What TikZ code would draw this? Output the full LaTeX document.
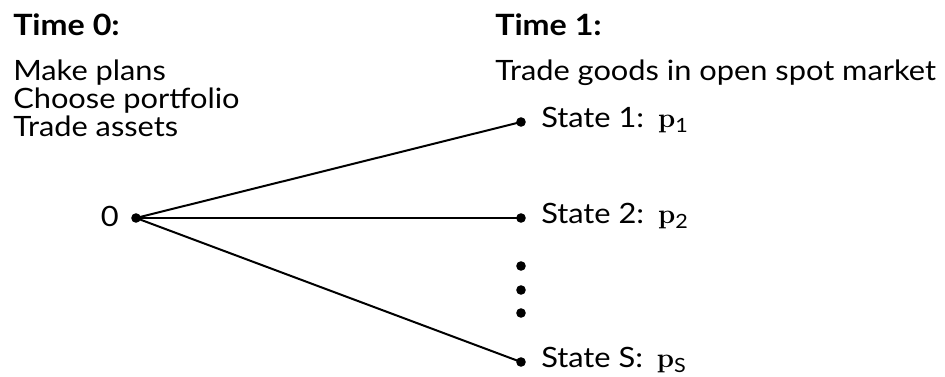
\documentclass[tikz,border=0pt]{standalone}
\usepackage[no-math]{fontspec}
\setmainfont{Lato}[FakeStretch=1.1]
\begin{document}
\begin{tikzpicture}[x=0.75pt,y=-0.75pt,
  txt/.style={anchor=base west, inner sep=0pt, font=\fontsize{21}{25}\selectfont},
  hd/.style={anchor=base west, inner sep=0pt, font=\bfseries\fontsize{22}{26}\selectfont},
  dotnode/.style={circle, fill=black, inner sep=0pt, minimum size=7.2pt},
  edge/.style={line width=1.5pt}]
\useasboundingbox (0,0) rectangle (945,377);
\node[hd] (t0) at (13,36) {Time 0:};
\node[txt] (a1) at (13,81) {Make plans};
\node[txt] (a2) at (13,109) {Choose portfolio};
\node[txt] (a3) at (13,137) {Trade assets};
\node[hd] (t1) at (495,36) {Time 1:};
\node[txt] (b1) at (495,81) {Trade goods in open spot market};
\node[dotnode] (n0) at (136,218) {};
\node[txt, anchor=base east] (z) at (119,227) {0};
\node[dotnode] (s1) at (521,122) {};
\node[dotnode] (s2) at (521,218) {};
\node[dotnode] (sS) at (521,362) {};
\node[dotnode] (d1) at (521,266) {};
\node[dotnode] (d2) at (521,290) {};
\node[dotnode] (d3) at (521,313) {};
\node[txt] (l1) at (541,128) {State 1:\enspace$\mathbf{p}$\textsubscript{1}};
\node[txt] (l2) at (541,224) {State 2:\enspace$\mathbf{p}$\textsubscript{2}};
\node[txt] (lS) at (541,368) {State S:\enspace$\mathbf{p}$\textsubscript{S}};
\draw[edge] (n0.center) -- (s1.center);
\draw[edge] (n0.center) -- (s2.center);
\draw[edge] (n0.center) -- (sS.center);
\end{tikzpicture}
\end{document}
